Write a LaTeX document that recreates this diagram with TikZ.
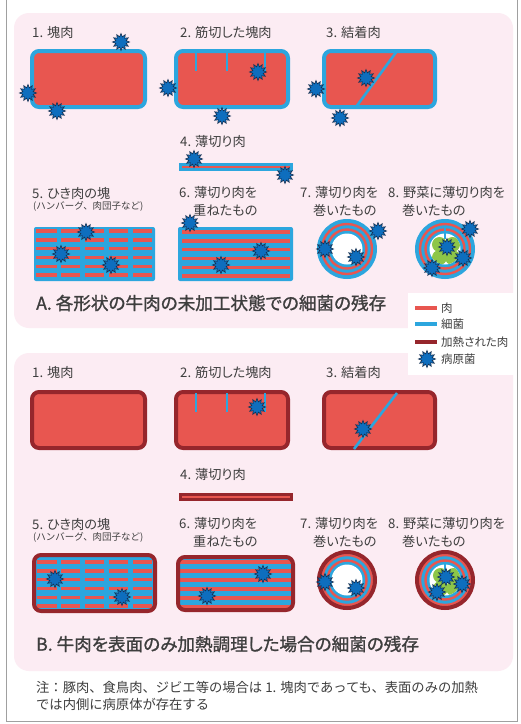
\documentclass[tikz,border=0pt]{standalone}
\usepackage{fontspec}
\setmainfont{Noto Sans CJK JP}[RawFeature=+palt]
\newfontfamily\headfont{Noto Sans CJK JP}[RawFeature=+palt, FakeBold=1.2]
\newfontfamily\plainfont{Noto Sans CJK JP}
\usetikzlibrary{shapes.geometric}

\definecolor{panelpink}{RGB}{252,236,243}
\definecolor{meatred}{RGB}{232,86,80}
\definecolor{bactblue}{RGB}{44,166,222}
\definecolor{cookedred}{RGB}{150,38,44}
\definecolor{germfill}{RGB}{14,110,190}
\definecolor{germline}{RGB}{22,48,80}
\definecolor{leafgreen}{RGB}{141,198,72}
\definecolor{textgray}{RGB}{62,62,62}
\definecolor{framegray}{RGB}{160,160,160}

\tikzset{
  panel/.style={fill=panelpink, rounded corners=15pt},
  rawblock/.style={fill=meatred, draw=bactblue, line width=4pt, rounded corners=7pt},
  cookededge/.style={draw=cookedred, line width=4pt, rounded corners=7pt},
  cookedblock/.style={cookededge, fill=meatred},
  cut/.style={draw=bactblue, line width=2.6pt},
  meatline/.style={draw=meatred, line width=3.4pt},
  ring/.style={draw=meatred, line width=2.4pt},
  germ/.style={star, star points=12, star point ratio=1.6, minimum size=17pt,
    inner sep=0pt, fill=germfill, draw=germline, line width=0.6pt},
  itemtext/.style={anchor=west, inner sep=0pt, text=textgray, font=\fontsize{13.2}{15}\selectfont},
  subtext/.style={itemtext, font=\plainfont\fontsize{9.5}{11}\selectfont},
  headtext/.style={anchor=west, inner sep=0pt, text=textgray, font=\headfont\fontsize{17.6}{20}\selectfont},
  notetext/.style={anchor=west, inner sep=0pt, text=textgray, font=\plainfont\fontsize{13.3}{16}\selectfont},
  keytext/.style={anchor=west, inner sep=0pt, text=textgray, font=\fontsize{11.5}{13}\selectfont},
  keyline/.style={line width=4pt},
}

\begin{document}
\begin{tikzpicture}[x=1pt, y=-1pt]
\useasboundingbox (0,0) rectangle (521,724);
\fill[white] (0,0) rectangle (521,724);
\draw[framegray, line width=0.8pt] (6.5,-5) -- (6.5,721) -- (517,721) -- (517,-5);

\fill[panel] (14,13) rectangle (513,328);
\fill[panel] (14,353) rectangle (513,671);

% raw meat
\node[itemtext] (a1t) at (32,32) {1. 塊肉};
\draw[rawblock] (32,51) rectangle (145,107);
\node[germ] (a1g1) at (121,42) {};
\node[germ] (a1g2) at (28,93) {};
\node[germ] (a1g3) at (57,111) {};

\node[itemtext] (a2t) at (180,32) {2. 筋切した塊肉};
\draw[rawblock] (176,51) rectangle (288,107);
\foreach \x in {196,227,265}
  \draw[cut] (\x,51) -- (\x,71);
\node[germ] (a2g1) at (258,72) {};
\node[germ] (a2g2) at (168,88) {};
\node[germ] (a2g3) at (222,116) {};

\node[itemtext] (a3t) at (326,32) {3. 結着肉};
\draw[rawblock] (324,51) rectangle (435,107);
\draw[cut] (397,51) -- (356,107);
\node[germ] (a3g1) at (366,78) {};
\node[germ] (a3g2) at (316,89) {};
\node[germ] (a3g3) at (340,118) {};

\node[itemtext] (a4t) at (180,142) {4. 薄切り肉};
\draw[fill=meatred, draw=bactblue, line width=3pt] (180,164.5) rectangle (291,169.5);
\node[germ] (a4g1) at (194,159) {};
\node[germ] (a4g2) at (285,175) {};

\node[itemtext] (a5t) at (32,193) {5. ひき肉の塊};
\node[subtext] (a5s) at (33,206) {(ハンバーグ、肉団子など)};
\fill[bactblue, rounded corners=2pt] (34,227) rectangle (155,281);
\foreach \y in {231,239.8,248.6,257.4,266.2,275}
  \foreach \xa/\xb in {36/57,61/80,85/104,109/128,133/152}
    \draw[meatline] (\xa,\y) -- (\xb,\y);
\node[germ] (a5g1) at (86,232) {};
\node[germ] (a5g2) at (61,254) {};
\node[germ] (a5g3) at (111,265) {};

\node[itemtext] (a6t) at (179,193) {6. 薄切り肉を};
\node[itemtext] (a6u) at (193,210) {重ねたもの};
\fill[bactblue, rounded corners=2pt] (178,227) rectangle (293,281);
\foreach \y in {232,240.8,249.6,258.4,267.2,276}
  \draw[meatline] (182,\y) -- (290,\y);
\node[germ] (a6g1) at (190,223) {};
\node[germ] (a6g2) at (261,251) {};
\node[germ] (a6g3) at (221,265) {};

\node[itemtext] (a7t) at (300,193) {7. 薄切り肉を};
\node[itemtext] (a7u) at (313,210) {巻いたもの};
\fill[bactblue] (347,249) circle (30pt);
\draw[ring] (347,249) circle (25pt) (347,249) circle (19.5pt);
\fill[white] (347,249) circle (15.5pt);
\node[germ] (a7g1) at (378,231) {};
\node[germ] (a7g2) at (325,249) {};
\node[germ] (a7g3) at (356,257) {};

\node[itemtext] (a8t) at (388,193) {8. 野菜に薄切り肉を};
\node[itemtext] (a8u) at (402,210) {巻いたもの};
\fill[bactblue] (445,249) circle (30pt);
\draw[ring] (445,249) circle (25pt) (445,249) circle (19.5pt);
\fill[white] (445,249) circle (15.5pt);
\begin{scope}
  \clip (445,249) circle (15.5pt);
  \foreach \dx/\dy in {-6.5/-6.5,6.5/-6.5,-6.5/6.5,6.5/6.5}
    \fill[leafgreen] (446+\dx,251+\dy) circle (7.5pt);
\end{scope}
\draw[cut, line width=2pt] (445,227) -- (445,239);
\node[germ] (a8g1) at (470,229) {};
\node[germ] (a8g2) at (447,247) {};
\node[germ] (a8g3) at (463,258) {};
\node[germ] (a8g4) at (432,268) {};

\node[headtext] (ahead) at (36,303) {A. 各形状の牛肉の未加工状態での細菌の残存};

% legend
\fill[white] (408,293) rectangle (514,375);
\draw[keyline, meatred] (415,308) -- (437,308);
\node[keytext] (k1) at (441,308) {肉};
\draw[keyline, bactblue] (415,324) -- (437,324);
\node[keytext] (k2) at (441,324) {細菌};
\draw[keyline, cookedred] (415,342) -- (437,342);
\node[keytext] (k3) at (441,342) {加熱された肉};
\node[germ] (k4g) at (427,359) {};
\node[keytext] (k4) at (441,359) {病原菌};

% surface-cooked meat
\node[itemtext] (b1t) at (32,372) {1. 塊肉};
\draw[cookedblock] (32,392) rectangle (145,448);

\node[itemtext] (b2t) at (180,372) {2. 筋切した塊肉};
\draw[cookedblock] (176,392) rectangle (288,448);
\foreach \x in {196,227,265}
  \draw[cut] (\x,393) -- (\x,412);
\node[germ] (b2g1) at (257,407) {};

\node[itemtext] (b3t) at (326,372) {3. 結着肉};
\draw[cookedblock] (324,392) rectangle (435,448);
\draw[cut] (397,393) -- (354,449);
\node[germ] (b3g1) at (363,429) {};

\node[itemtext] (b4t) at (180,475) {4. 薄切り肉};
\draw[fill=meatred, draw=cookedred, line width=3pt] (180,494.5) rectangle (291,499.5);

\node[itemtext] (b5t) at (32,524) {5. ひき肉の塊};
\node[subtext] (b5s) at (33,537) {(ハンバーグ、肉団子など)};
\fill[bactblue, rounded corners=7pt] (34,555) rectangle (155,611);
\foreach \y in {562,570.8,579.6,588.4,597.2,606}
  \foreach \xa/\xb in {37/57,61/80,85/104,109/128,133/152}
    \draw[meatline] (\xa,\y) -- (\xb,\y);
\draw[cookededge] (34,555) rectangle (155,611);
\node[germ] (b5g1) at (55,579) {};
\node[germ] (b5g2) at (122,597) {};

\node[itemtext] (b6t) at (179,524) {6. 薄切り肉を};
\node[itemtext] (b6u) at (193,541) {重ねたもの};
\fill[bactblue, rounded corners=7pt] (178,557) rectangle (293,610);
\foreach \y in {562,571,580,589,598,607}
  \draw[meatline] (180,\y) -- (291,\y);
\draw[cookededge] (178,557) rectangle (293,610);
\node[germ] (b6g1) at (263,574) {};
\node[germ] (b6g2) at (207,596) {};

\node[itemtext] (b7t) at (300,524) {7. 薄切り肉を};
\node[itemtext] (b7u) at (313,541) {巻いたもの};
\fill[bactblue] (347,580) circle (28pt);
\draw[ring] (347,580) circle (25pt) (347,580) circle (19.5pt);
\fill[white] (347,580) circle (15.5pt);
\draw[cookedred, line width=4pt] (347,580) circle (28pt);
\node[germ] (b7g1) at (325,582) {};
\node[germ] (b7g2) at (356,588) {};

\node[itemtext] (b8t) at (388,524) {8. 野菜に薄切り肉を};
\node[itemtext] (b8u) at (402,541) {巻いたもの};
\fill[bactblue] (445,580) circle (28pt);
\draw[ring] (445,580) circle (25pt) (445,580) circle (19.5pt);
\fill[white] (445,580) circle (15.5pt);
\draw[cookedred, line width=4pt] (445,580) circle (28pt);
\begin{scope}
  \clip (445,580) circle (15.5pt);
  \foreach \dx/\dy in {-6.5/-6.5,6.5/-6.5,-6.5/6.5,6.5/6.5}
    \fill[leafgreen] (447+\dx,582+\dy) circle (7.5pt);
\end{scope}
\draw[cut, line width=2pt] (445,562) -- (445,572);
\node[germ] (b8g1) at (446,577) {};
\node[germ] (b8g2) at (437,592) {};
\node[germ] (b8g3) at (462,584) {};

\node[headtext] (bhead) at (36,644) {B. 牛肉を表面のみ加熱調理した場合の細菌の残存};

\node[notetext] (n1) at (36,687) {注：豚肉、食鳥肉、ジビエ等の場合は 1. 塊肉であっても、表面のみの加熱};
\node[notetext] (n2) at (36,704) {では内側に病原体が存在する};
\end{tikzpicture}
\end{document}
